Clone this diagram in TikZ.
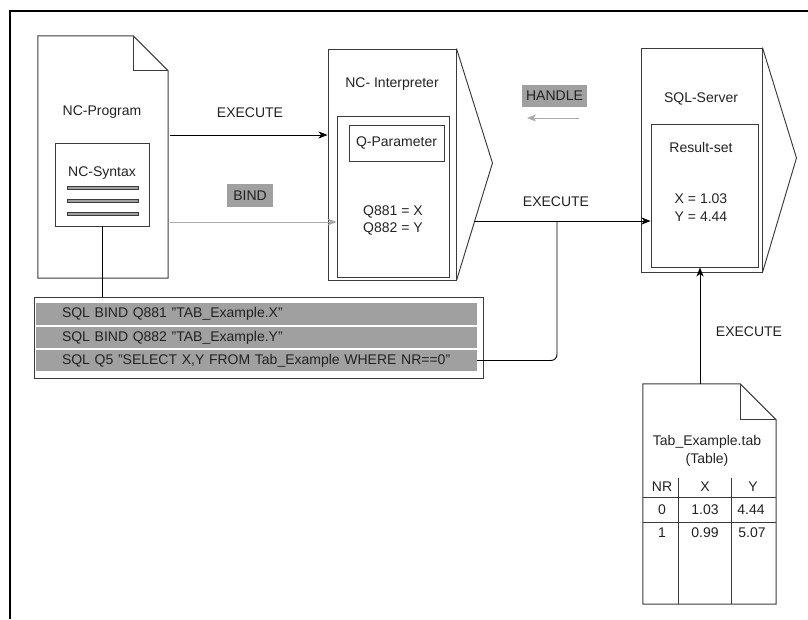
\documentclass[tikz,border=0pt]{standalone}
\usepackage{fontspec}
\setmainfont{Liberation Sans}
\usetikzlibrary{arrows.meta}
\definecolor{ln}{HTML}{3A3A3A}
\definecolor{txt}{HTML}{222222}
\definecolor{gfill}{HTML}{A0A0A0}
\definecolor{garrow}{HTML}{A8A8A8}
\begin{document}
\begin{tikzpicture}[x=1pt,y=-1pt,
  every node/.style={font=\fontsize{14}{16}\selectfont, text=txt, inner sep=0pt},
  outline/.style={draw=ln, line width=0.95pt},
  area/.style 2 args={minimum width=#1, minimum height=#2, inner sep=0pt},
  boxed/.style={outline},
  bar/.style={fill=gfill, draw=ln, line width=0.8pt, minimum width=71, minimum height=3},
  row/.style={fill=gfill, minimum height=21, inner xsep=26, text width=389, align=left},
  glabel/.style={fill=gfill},
  arr/.style={draw=black, line width=0.95pt, -{Stealth[length=9pt,width=7pt,inset=2.5pt]}},
  garr/.style={draw=garrow, line width=0.95pt, -{Stealth[length=9pt,width=7pt,inset=2.5pt]}},
  conn/.style={draw=black, line width=0.95pt},
  rule/.style={draw=ln, line width=0.9pt}
]
\useasboundingbox (0,0) rectangle (808,619);
% frame
\draw[line width=2.5pt] (10,619) -- (10,11) -- (808,11);

% ---------- NC-Program document
\node[area={130}{242}] (prog) at (103,157) {};
\draw[outline] (prog.north west) -- ([xshift=-35pt]prog.north east)
  -- ([yshift=-35pt]prog.north east) -- (prog.south east) -- (prog.south west) -- cycle;
\draw[outline] ([xshift=-35pt]prog.north east) -- ([xshift=-35pt,yshift=-35pt]prog.north east)
  -- ([yshift=-35pt]prog.north east);
\node (progl) at (102,112) {NC-Program};
\node[boxed, area={94}{83}] (syn) at (102,184.5) {};
\node (synl) at (102,173) {NC-Syntax};
\node[bar] (b1) at (102.5,188) {};
\node[bar] (b2) at (102.5,201) {};
\node[bar] (b3) at (102.5,214) {};

% ---------- SQL statements
\node[boxed, area={449}{81}] (sqlbox) at (258.5,337.5) {};
\node[row, minimum height=22] (r1) at (256.5,314) {SQL BIND Q881 "TAB\_Example.X"};
\node[row] (r2) at (256.5,337.5) {SQL BIND Q882 "TAB\_Example.Y"};
\node[row] (r3) at (256.5,360.5) {SQL Q5 "SELECT X,Y FROM Tab\_Example WHERE NR==0"};
\draw[conn] (syn.south) -- (syn.south |- sqlbox.north);

% ---------- NC-Interpreter
\node[boxed, area={128}{231}] (interp) at (392,164.5) {};
\draw[outline] (interp.north east) -- ([xshift=36pt,yshift=1.5pt]interp.east) -- (interp.south east);
\node (interpl) at (392,84) {NC- Interpreter};
\node[boxed, area={112}{161}] (interin) at (393,196.5) {};
\node[boxed, area={95}{36}] (qpar) at (396.5,143) {Q-Parameter};
\node (q1) at (393,212) {Q881 = X};
\node (q2) at (393,229) {Q882 = Y};

% ---------- SQL-Server
\node[boxed, area={121}{224}] (sql) at (701.5,160) {};
\draw[outline] (sql.north east) -- ([xshift=34pt,yshift=2pt]sql.east) -- (sql.south east);
\node (sqll) at (701,99) {SQL-Server};
\node[boxed, area={107}{143}] (res) at (704.5,195.5) {};
\node (resl) at (701,147) {Result-set};
\node (rx) at (701,199) {X = 1.03};
\node (ry) at (701,217) {Y = 4.44};

% ---------- Table document
\node[area={133}{220}] (tab) at (709.5,494) {};
\draw[outline] (tab.north west) -- ([xshift=-36pt]tab.north east)
  -- ([yshift=-36pt]tab.north east) -- (tab.south east) -- (tab.south west) -- cycle;
\draw[outline] ([xshift=-36pt]tab.north east) -- ([xshift=-36pt,yshift=-36pt]tab.north east)
  -- ([yshift=-36pt]tab.north east);
\node (tabl1) at (707,442) {Tab\_Example.tab};
\node (tabl2) at (707,460) {(Table)};
\node (hnr) at (662,487) {NR};
\node (hx) at (705,487) {X};
\node (hy) at (753,487) {Y};
\node (v00) at (662,510) {0};
\node (v01) at (705,510) {1.03};
\node (v02) at (751,510) {4.44};
\node (v10) at (662,533) {1};
\node (v11) at (705,533) {0.99};
\node (v12) at (752,533) {5.07};
\coordinate (hl1) at (0,497);
\coordinate (hl2) at (0,522);
\coordinate (vl1) at (678,478);
\coordinate (vl2) at (731,478);
\draw[rule] (tab.west |- hl1) -- (tab.east |- hl1);
\draw[rule] (tab.west |- hl2) -- (tab.east |- hl2);
\draw[rule] (vl1) -- (vl1 |- tab.south);
\draw[rule] (vl2) -- (vl2 |- tab.south);

% ---------- connectors and labels
\coordinate (y135) at (0,135);
\coordinate (y222) at (0,222);
\draw[arr] ([xshift=2pt]prog.east |- y135) -- (interp.west |- y135);
\node (exe1) at (250,113) {EXECUTE};
\draw[garr] ([xshift=2pt]prog.east |- y222) -- (interin.west |- y222);
\node[glabel, area={46}{23}] (bind) at (250,195.5) {BIND};

\node[glabel, area={65}{22}] (handle) at (554.5,96) {HANDLE};
\coordinate (h1) at (579,118);
\coordinate (h2) at (527,118);
\draw[garr] (h1) -- (h2);

\coordinate (c1) at (474,221);
\coordinate (j) at (557,221);
\draw[arr] (c1) -- (res.west |- c1);
\node (exe2) at (556,202) {EXECUTE};
\draw[conn, rounded corners=6pt] (r3.east) -| (j);

\coordinate (x700) at (700,0);
\draw[arr] (x700 |- tab.north) -- (x700 |- res.south);
\node (exe3) at (749,332) {EXECUTE};
\end{tikzpicture}
\end{document}
